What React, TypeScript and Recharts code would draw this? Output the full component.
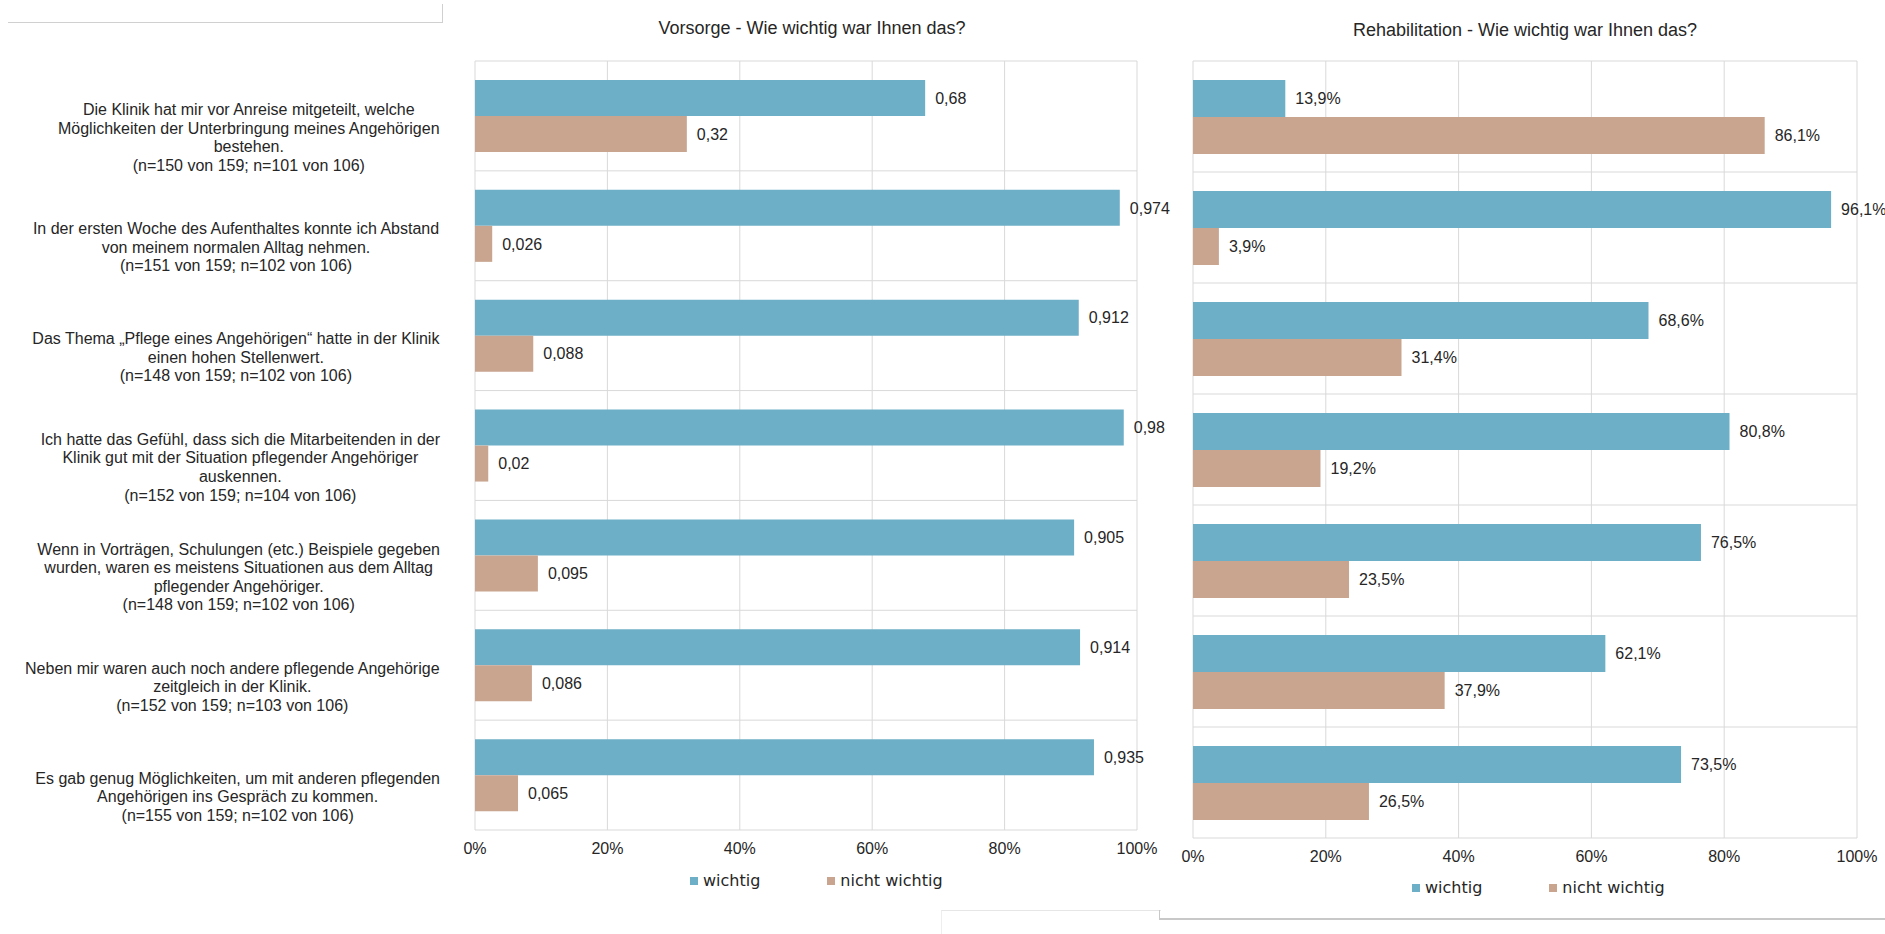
import React from "react";
import {
  BarChart,
  Bar,
  XAxis,
  YAxis,
  CartesianGrid,
  Legend,
  LabelList,
} from "recharts";

// statements (line breaks as in the original chart)
const questions = [
  "Die Klinik hat mir vor Anreise mitgeteilt, welche\nMöglichkeiten der Unterbringung meines Angehörigen\nbestehen.\n(n=150 von 159; n=101 von 106)",
  "In der ersten Woche des Aufenthaltes konnte ich Abstand\nvon meinem normalen Alltag nehmen.\n(n=151 von 159; n=102 von 106)",
  "Das Thema „Pflege eines Angehörigen“ hatte in der Klinik\neinen hohen Stellenwert.\n(n=148 von 159; n=102 von 106)",
  "Ich hatte das Gefühl, dass sich die Mitarbeitenden in der\nKlinik gut mit der Situation pflegender Angehöriger\nauskennen.\n(n=152 von 159; n=104 von 106)",
  "Wenn in Vorträgen, Schulungen (etc.) Beispiele gegeben\nwurden, waren es meistens Situationen aus dem Alltag\npflegender Angehöriger.\n(n=148 von 159; n=102 von 106)",
  "Neben mir waren auch noch andere pflegende Angehörige\nzeitgleich in der Klinik.\n(n=152 von 159; n=103 von 106)",
  "Es gab genug Möglichkeiten, um mit anderen pflegenden\nAngehörigen ins Gespräch zu kommen.\n(n=155 von 159; n=102 von 106)",
];

const seriesNames = ["wichtig", "nicht wichtig"];

// Vorsorge (shares 0..1)
const vorsorgeWichtig = [0.68, 0.974, 0.912, 0.98, 0.905, 0.914, 0.935];
const vorsorgeNicht = [0.32, 0.026, 0.088, 0.02, 0.095, 0.086, 0.065];

// Rehabilitation (percent)
const rehaWichtig = [13.9, 96.1, 68.6, 80.8, 76.5, 62.1, 73.5];
const rehaNicht = [86.1, 3.9, 31.4, 19.2, 23.5, 37.9, 26.5];

const shareTicks = [0, 0.2, 0.4, 0.6, 0.8, 1];
const percentTicks = [0, 20, 40, 60, 80, 100];

const BLUE = "#6CAFC7";
const BROWN = "#C9A590";
const GRID = "#D9D9D9";
const TEXT = "#262626";
const FONT = '"Liberation Sans", Arial, sans-serif';
const LEGEND_FONT = '"DejaVu Sans", Verdana, sans-serif';

const vorsorgeData = questions.map((q, i) => ({
  frage: q,
  wichtig: vorsorgeWichtig[i],
  nicht: vorsorgeNicht[i],
}));

const rehaData = questions.map((q, i) => ({
  frage: q,
  wichtig: rehaWichtig[i],
  nicht: rehaNicht[i],
}));

let ctx: CanvasRenderingContext2D | null = null;
function textWidth(s: string) {
  if (!ctx) ctx = document.createElement("canvas").getContext("2d");
  if (!ctx) return s.length * 8;
  ctx.font = `16px ${FONT}`;
  return ctx.measureText(s).width;
}

// label block is right-aligned to the axis, lines centred inside it
function QuestionTick({ x, y, payload }: any) {
  const lines = String(payload.value).split("\n");
  const w = Math.max(...lines.map(textWidth));
  const cx = x - w / 2;
  const lh = 18.6;
  const top = y + 21.5 - ((lines.length - 1) * lh) / 2;
  return (
    <text textAnchor="middle" fontSize={16} fontFamily={FONT} fill={TEXT}>
      {lines.map((l, i) => (
        <tspan key={i} x={cx} y={top + i * lh} dy="0.35em">
          {l}
        </tspan>
      ))}
    </text>
  );
}

const bandLines = (n: number) => ({ offset }: any) =>
  Array.from({ length: n + 1 }, (_, i) => offset.top + (i * offset.height) / n);

const comma = (v: number) => String(v).replace(".", ",");

const renderLegend = (props: any) => {
  const items = [...(props.payload || [])].sort(
    (a: any, b: any) => seriesNames.indexOf(a.value) - seriesNames.indexOf(b.value)
  );
  return (
    <div
      style={{
        display: "flex",
        alignItems: "center",
        fontFamily: LEGEND_FONT,
        fontSize: 16,
        lineHeight: "20px",
        color: TEXT,
      }}
    >
      {items.map((e: any, i: number) => (
        <div
          key={e.value}
          style={{ display: "flex", alignItems: "center", marginLeft: i ? 67 : 0 }}
        >
          <span style={{ width: 8, height: 8, background: e.color, marginRight: 5 }} />
          <span>{e.value}</span>
        </div>
      ))}
    </div>
  );
};

const titleStyle: React.CSSProperties = {
  position: "absolute",
  width: 500,
  textAlign: "center",
  fontFamily: FONT,
  fontSize: 18,
  lineHeight: "20px",
  color: TEXT,
};

export default function App() {
  return (
    <div
      style={{
        position: "absolute",
        left: 0,
        top: 0,
        width: 1885,
        height: 934,
        background: "#fff",
        fontFamily: FONT,
        overflow: "hidden",
      }}
    >
      {/* frame remnants of the original screenshot */}
      <div style={{ position: "absolute", left: 8, top: 22, width: 434, borderTop: "1px solid #D0D0D0" }} />
      <div style={{ position: "absolute", left: 442, top: 4, height: 19, borderLeft: "1px solid #D0D0D0" }} />
      <div style={{ position: "absolute", left: 941, top: 910, width: 219, height: 30, borderTop: "1px solid #E6E6E6", borderLeft: "1px solid #EEEEEE" }} />
      <div style={{ position: "absolute", left: 1159, top: 910, height: 9, borderLeft: "1px solid #C8C8C8" }} />
      <div style={{ position: "absolute", left: 1159, top: 918, width: 730, borderTop: "2px solid #C8C8C8" }} />

      <div style={{ ...titleStyle, left: 812 - 250, top: 18 }}>
        Vorsorge - Wie wichtig war Ihnen das?
      </div>
      <div style={{ ...titleStyle, left: 1525 - 250, top: 20 }}>
        Rehabilitation - Wie wichtig war Ihnen das?
      </div>

      <div style={{ position: "absolute", left: 0, top: 0 }}>
        <BarChart
          width={1190}
          height={934}
          data={vorsorgeData}
          layout="vertical"
          margin={{ top: 61, right: 53, bottom: 74, left: 0 }}
          barGap={0}
        >
          <CartesianGrid
            stroke={GRID}
            horizontalCoordinatesGenerator={bandLines(questions.length)}
          />
          <XAxis
            type="number"
            domain={[0, 1]}
            ticks={shareTicks}
            interval={0}
            tickFormatter={(v) => `${Math.round(v * 100)}%`}
            axisLine={false}
            tickLine={false}
            tickSize={0}
            tickMargin={13}
            height={30}
            tick={{ fontSize: 16, fill: TEXT, fontFamily: FONT }}
          />
          <YAxis
            type="category"
            dataKey="frage"
            width={475}
            axisLine={false}
            tickLine={false}
            tickSize={0}
            tickMargin={35}
            interval={0}
            tick={<QuestionTick />}
          />
          <Legend
            layout="horizontal"
            verticalAlign="middle"
            align="center"
            content={renderLegend}
            wrapperStyle={{ left: 690, top: 871, width: 320, height: 20 }}
          />
          <Bar dataKey="wichtig" name={seriesNames[0]} fill={BLUE} barSize={36} isAnimationActive={false}>
            <LabelList
              dataKey="wichtig"
              position="right"
              offset={10}
              formatter={(v: any) => comma(v)}
              style={{ fontSize: 16, fill: TEXT, fontFamily: FONT }}
            />
          </Bar>
          <Bar dataKey="nicht" name={seriesNames[1]} fill={BROWN} barSize={36} isAnimationActive={false}>
            <LabelList
              dataKey="nicht"
              position="right"
              offset={10}
              formatter={(v: any) => comma(v)}
              style={{ fontSize: 16, fill: TEXT, fontFamily: FONT }}
            />
          </Bar>
        </BarChart>
      </div>

      <div style={{ position: "absolute", left: 1160, top: 0 }}>
        <BarChart
          width={725}
          height={934}
          data={rehaData}
          layout="vertical"
          margin={{ top: 61, right: 28, bottom: 66, left: 33 }}
          barGap={0}
        >
          <CartesianGrid
            stroke={GRID}
            horizontalCoordinatesGenerator={bandLines(questions.length)}
          />
          <XAxis
            type="number"
            domain={[0, 100]}
            ticks={percentTicks}
            interval={0}
            tickFormatter={(v) => `${v}%`}
            axisLine={false}
            tickLine={false}
            tickSize={0}
            tickMargin={13}
            height={30}
            tick={{ fontSize: 16, fill: TEXT, fontFamily: FONT }}
          />
          <YAxis type="category" dataKey="frage" hide />
          <Legend
            layout="horizontal"
            verticalAlign="middle"
            align="center"
            content={renderLegend}
            wrapperStyle={{ left: 252, top: 878, width: 320, height: 20 }}
          />
          <Bar dataKey="wichtig" name={seriesNames[0]} fill={BLUE} barSize={37} isAnimationActive={false}>
            <LabelList
              dataKey="wichtig"
              position="right"
              offset={10}
              formatter={(v: any) => `${comma(v)}%`}
              style={{ fontSize: 16, fill: TEXT, fontFamily: FONT }}
            />
          </Bar>
          <Bar dataKey="nicht" name={seriesNames[1]} fill={BROWN} barSize={37} isAnimationActive={false}>
            <LabelList
              dataKey="nicht"
              position="right"
              offset={10}
              formatter={(v: any) => `${comma(v)}%`}
              style={{ fontSize: 16, fill: TEXT, fontFamily: FONT }}
            />
          </Bar>
        </BarChart>
      </div>
    </div>
  );
}
